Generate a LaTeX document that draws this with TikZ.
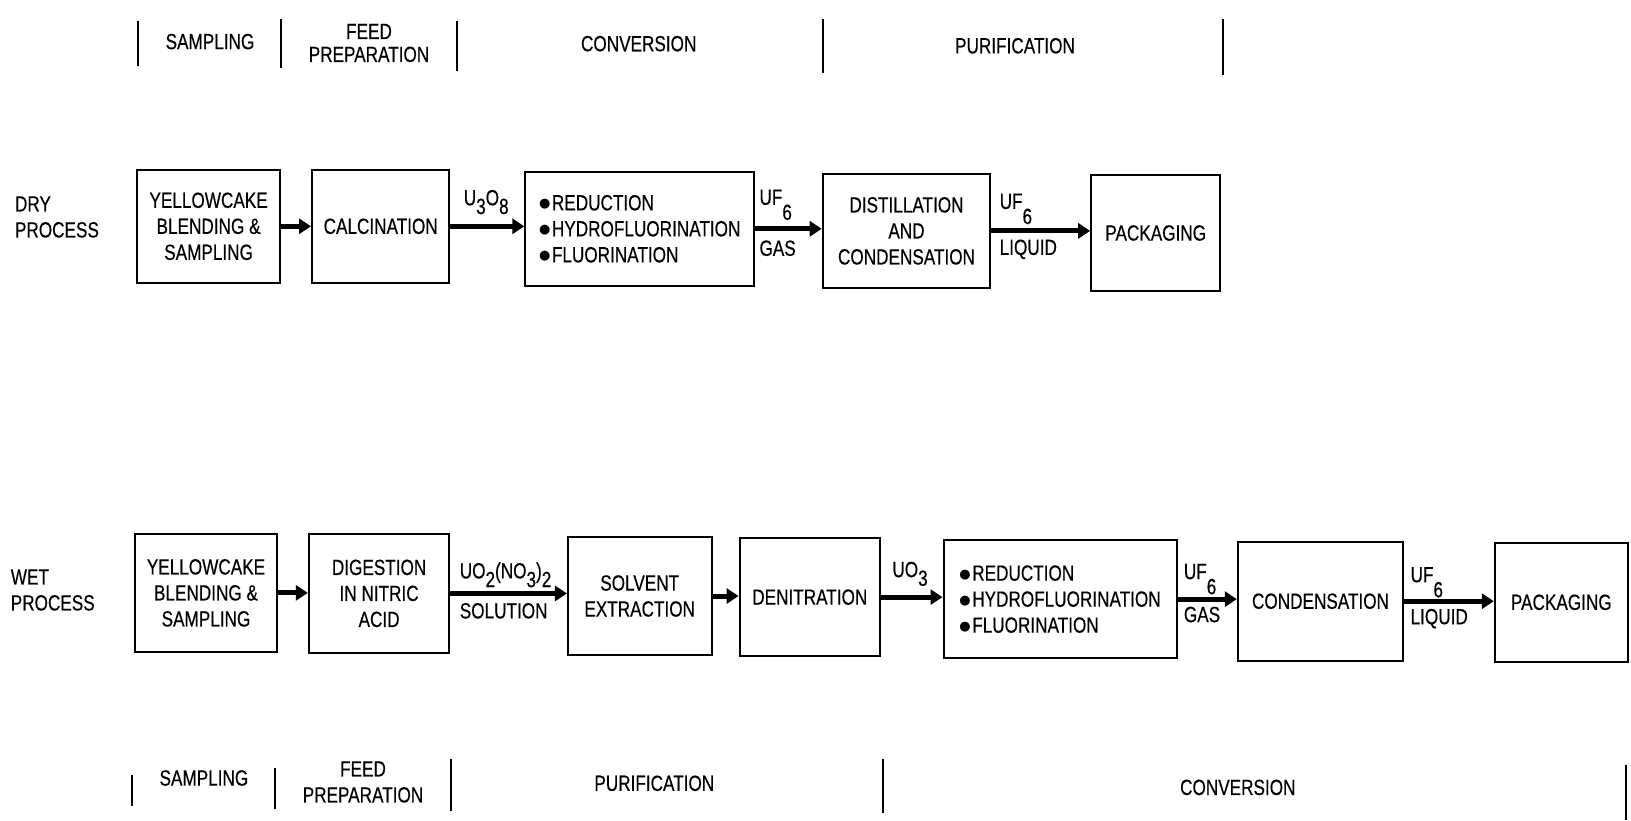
\documentclass[tikz,border=0pt]{standalone}
\usepackage{fontspec}
\setmainfont{Liberation Sans}[FakeStretch=0.78,FakeBold=0.4]
\newfontfamily\symf{DejaVu Sans}
\usetikzlibrary{arrows.meta,calc}
\newcommand\dn[2][0.75ex]{\raisebox{-#1}{#2}}
\newcommand\bul{\raisebox{1.2pt}{\symf\fontsize{6.5}{6.5}\selectfont ●}\hspace{0.8pt}}
\begin{document}
\begin{tikzpicture}[x=0.5pt,y=-0.5pt,
  txt/.style={font=\fontsize{11}{13}\selectfont},
  box/.style={draw, line width=1pt, align=center, inner sep=0pt, txt},
  lbl/.style={inner sep=0pt, txt},
  flow/.style={line width=2.5pt, -{Triangle[length=6pt,width=7.5pt]}},
  divider/.style={line width=1pt}]
\useasboundingbox (0,0) rectangle (1631,820);

% ---- top phase headers ----
\draw[divider] (138.3,21) -- (138.3,66);
\draw[divider] (280.9,19) -- (280.9,68);
\draw[divider] (456.7,21) -- (456.7,71);
\draw[divider] (822.8,19) -- (822.8,73);
\draw[divider] (1223.3,19) -- (1223.3,75);
\node[lbl] (hs) at (210,41.6) {SAMPLING};
\node[lbl, align=center] (hf) at (369,43) {FEED\\[-1.5pt]PREPARATION};
\node[lbl] (hc) at (638.7,43.7) {CONVERSION};
\node[lbl] (hp) at (1015,45.8) {PURIFICATION};

% ---- dry process ----
\node[lbl, align=left, anchor=west] (dry) at (14.6,217) {DRY\\PROCESS};
\node[box, minimum width=71.3pt, minimum height=56.7pt] (d1) at (208.6,226.3) {YELLOWCAKE\\BLENDING \&\\SAMPLING};
\node[box, minimum width=68.7pt, minimum height=56.7pt] (d2) at (380.7,226.3) {CALCINATION};
\node[box, align=left, minimum width=114.4pt, minimum height=57.2pt] (d3) at (639.7,228.8) {\bul REDUCTION\\\bul HYDROFLUORINATION\\\bul FLUORINATION};
\node[box, minimum width=83.8pt, minimum height=57.2pt] (d4) at (906.5,230.9) {DISTILLATION\\AND\\CONDENSATION};
\node[box, minimum width=64.5pt, minimum height=58.3pt] (d5) at (1155.7,233) {PACKAGING};

\draw[flow] (d1.east) -- (d1.east -| d2.west);
\draw[flow] (d2.east) -- (d2.east -| d3.west);
\draw[flow] (d3.east) -- (d3.east -| d4.west);
\draw[flow] (d4.east) -- (d4.east -| d5.west);

\node[lbl, anchor=base west] (l1) at ($(d2.east)+(13,-21)$) {U\dn{3}O\dn{8}};
\node[lbl, anchor=base west] (l2) at ($(d3.east)+(4,-24)$) {UF\dn[1.3ex]{6}};
\node[lbl, anchor=base west] (l3) at ($(d3.east)+(4,27)$) {GAS};
\node[lbl, anchor=base west] (l4) at ($(d4.east)+(8,-22)$) {UF\dn[1.3ex]{6}};
\node[lbl, anchor=base west] (l5) at ($(d4.east)+(8,24)$) {LIQUID};

% ---- wet process ----
\node[lbl, align=left, anchor=west] (wet) at (10.4,590) {WET\\PROCESS};
\node[box, minimum width=70.8pt, minimum height=59.3pt] (w1) at (206,592.9) {YELLOWCAKE\\BLENDING \&\\SAMPLING};
\node[box, minimum width=70.3pt, minimum height=59.8pt] (w2) at (379.1,593.4) {DIGESTION\\IN NITRIC\\ACID};
\node[box, minimum width=71.8pt, minimum height=59.3pt] (w3) at (639.7,596) {SOLVENT\\EXTRACTION};
\node[box, minimum width=70.2pt, minimum height=59.3pt] (w4) at (809.8,597.1) {DENITRATION};
\node[box, align=left, minimum width=116.5pt, minimum height=59.3pt] (w5) at (1060,599.1) {\bul REDUCTION\\\bul HYDROFLUORINATION\\\bul FLUORINATION};
\node[box, minimum width=82.7pt, minimum height=59.3pt] (w6) at (1320.5,601.2) {CONDENSATION};
\node[box, minimum width=66.5pt, minimum height=59.3pt] (w7) at (1561.3,602.3) {PACKAGING};

\draw[flow] (w1.east) -- (w1.east -| w2.west);
\draw[flow] (w2.east) -- (w2.east -| w3.west);
\draw[flow] (w3.east) -- (w3.east -| w4.west);
\draw[flow] (w4.east) -- (w4.east -| w5.west);
\draw[flow] (w5.east) -- (w5.east -| w6.west);
\draw[flow] (w6.east) -- (w6.east -| w7.west);

\node[lbl, anchor=base west] (m1) at ($(w2.east)+(9,-15)$) {UO\dn{2}(NO\dn{3})\dn{2}};
\node[lbl, anchor=base west] (m2) at ($(w2.east)+(9,25)$) {SOLUTION};
\node[lbl, anchor=base west] (m3) at ($(w4.east)+(11,-20)$) {UO\dn{3}};
\node[lbl, anchor=base west] (m4) at ($(w5.east)+(6,-20)$) {UF\dn[1.3ex]{6}};
\node[lbl, anchor=base west] (m5) at ($(w5.east)+(6,23)$) {GAS};
\node[lbl, anchor=base west] (m6) at ($(w6.east)+(6,-19)$) {UF\dn[1.3ex]{6}};
\node[lbl, anchor=base west] (m7) at ($(w6.east)+(6,23)$) {LIQUID};

% ---- bottom phase headers ----
\draw[divider] (132.1,775) -- (132.1,806);
\draw[divider] (274.6,768) -- (274.6,809);
\draw[divider] (451.4,759) -- (451.4,811);
\draw[divider] (883.1,759) -- (883.1,813);
\draw[divider] (1625.9,765) -- (1625.9,820);
\node[lbl] (bs) at (203.9,778) {SAMPLING};
\node[lbl, align=center] (bf) at (363,782) {FEED\\PREPARATION};
\node[lbl] (bp) at (654.3,783.3) {PURIFICATION};
\node[lbl] (bc) at (1237.8,787.4) {CONVERSION};
\end{tikzpicture}
\end{document}
